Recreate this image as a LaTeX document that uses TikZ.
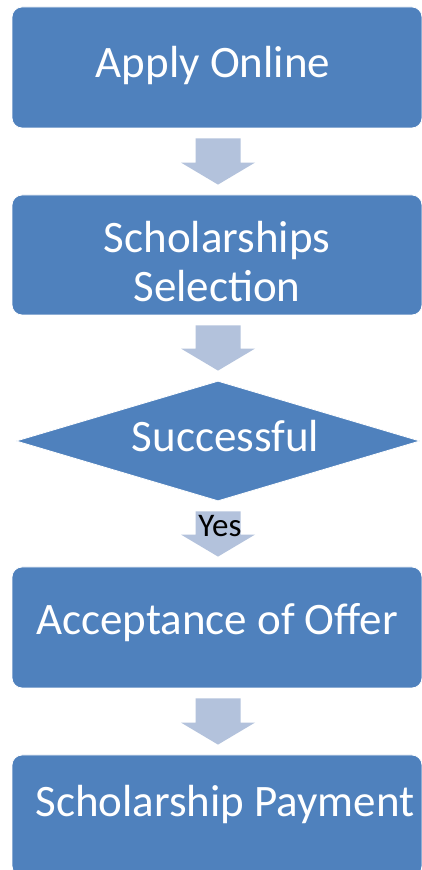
\documentclass[tikz,border=0pt]{standalone}
\usepackage{fontspec}
\setmainfont{Carlito}
\usetikzlibrary{shapes.geometric,calc}
\definecolor{boxblue}{HTML}{4F81BD}
\definecolor{arrowblue}{HTML}{B3C2DC}
\tikzset{
	stepbox/.style={rectangle, fill=boxblue, draw=white, line width=0.8pt, rounded corners=10pt, minimum width=410pt, minimum height=121pt, inner sep=0pt, text=white, font=\fontsize{45}{49}\selectfont},
	decision/.style={diamond, aspect=3.37, fill=boxblue, draw=white, line width=0.8pt, minimum width=404pt, minimum height=120pt, inner sep=0pt, text=white, font=\fontsize{45}{49}\selectfont, text height=22pt, text depth=0pt},
	flowarrow/.style={fill=arrowblue}
}
\begin{document}
\begin{tikzpicture}[x=1pt, y=1pt]
			\useasboundingbox[fill=white] (0,0) rectangle (422,870);
			\node[stepbox, text height=71pt, text depth=50pt] (apply) at (217,802.5) {Apply Online\hspace*{8pt}};
			\node[stepbox, align=center, minimum height=120pt, text height=107pt, text depth=13pt] (select) at (217,615) {Scholarships\\Selection};
			\node[decision] (succ) at (218,429) {\hspace*{15pt}Successful};
			\node[stepbox, text height=68pt, text depth=53pt] (accept) at (217,242.5) {Acceptance of Offer};
			\node[stepbox, text height=62pt, text depth=59pt] (pay) at (217,54.5) {\hspace*{16pt}Scholarship Payment};
			% block arrows between the steps
			\foreach \a/\b in {apply/select, select/succ, succ/accept, accept/pay}{
				\fill[flowarrow] let \p1=(\a.south), \p2=(\b.north) in
					(195.5pt,\y1-10pt) -- (240.5pt,\y1-10pt) -- (240.5pt,\y2+32pt) -- (255pt,\y2+32pt)
					-- (218pt,\y2+10pt) -- (181pt,\y2+32pt) -- (195.5pt,\y2+32pt) -- cycle;
			}
			\node[anchor=base, inner sep=0pt, font=\fontsize{33}{36}\selectfont] (yes) at (220,333) {Yes};
		\end{tikzpicture}
\end{document}
